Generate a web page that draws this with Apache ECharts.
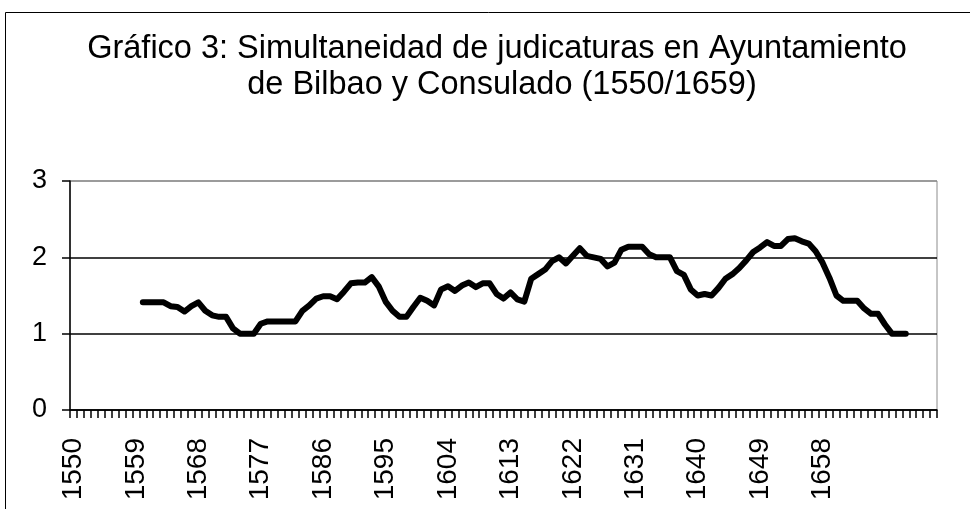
<!DOCTYPE html>
<html>
<head>
<meta charset="utf-8">
<script src="https://cdn.jsdelivr.net/npm/echarts@6/dist/echarts.min.js"></script>
<style>
html,body{margin:0;padding:0;background:#fff;}
#c{width:970px;height:509px;}
</style>
</head>
<body>
<div id="c"></div>
<script>
// Category labels (every year; trailing categories are blank in the original)
const categories = [
 '1550','1551','1552','1553','1554','1555','1556','1557','1558','1559',
 '1560','1561','1562','1563','1564','1565','1566','1567','1568','1569',
 '1570','1571','1572','1573','1574','1575','1576','1577','1578','1579',
 '1580','1581','1582','1583','1584','1585','1586','1587','1588','1589',
 '1590','1591','1592','1593','1594','1595','1596','1597','1598','1599',
 '1600','1601','1602','1603','1604','1605','1606','1607','1608','1609',
 '1610','1611','1612','1613','1614','1615','1616','1617','1618','1619',
 '1620','1621','1622','1623','1624','1625','1626','1627','1628','1629',
 '1630','1631','1632','1633','1634','1635','1636','1637','1638','1639',
 '1640','1641','1642','1643','1644','1645','1646','1647','1648','1649',
 '1650','1651','1652','1653','1654','1655','1656','1657','1658','1659',
 '','','','','','','','','','','','','','',''
];

// Series values (null = no data)
const values = [
 null,null,null,null,null,null,null,null,null,null,
 1.41,1.41,1.41,1.41,1.36,1.35,1.29,1.36,1.41,1.30,
 1.24,1.22,1.22,1.07,1.00,1.00,1.00,1.13,1.16,1.16,
 1.16,1.16,1.16,1.30,1.37,1.46,1.49,1.49,1.45,1.55,
 1.66,1.67,1.67,1.74,1.62,1.42,1.30,1.22,1.22,1.35,
 1.47,1.43,1.37,1.58,1.62,1.56,1.63,1.67,1.61,1.66,
 1.66,1.52,1.46,1.54,1.45,1.42,1.72,1.78,1.84,1.95,
 2.00,1.92,2.02,2.12,2.02,2.00,1.98,1.88,1.93,2.10,
 2.14,2.14,2.14,2.04,2.00,2.00,2.00,1.82,1.77,1.58,
 1.50,1.52,1.50,1.60,1.72,1.78,1.86,1.96,2.07,2.13,
 2.20,2.15,2.15,2.24,2.25,2.21,2.18,2.08,1.93,1.73,
 1.50,1.43,1.43,1.43,1.33,1.26,1.26,1.12,1.00,1.00,
 1.00,null,null,null,null
];

const yTicks = [0, 1, 2, 3];
const titleLines = ['Gráfico 3: Simultaneidad de judicaturas en Ayuntamiento', 'de Bilbao y Consulado (1550/1659)'];

const FONT = 'Liberation Sans, Arial, sans-serif';
const chart = echarts.init(document.getElementById('c'), null, {renderer: 'canvas'});
chart.setOption({
  backgroundColor: '#fff',
  animation: false,
  graphic: [
    {type: 'rect', shape: {x: 5.5, y: 12.5, width: 1000, height: 600},
     style: {fill: 'none', stroke: '#000', lineWidth: 1}, z: 0},
    {type: 'text', x: 497, y: 49, style: {text: titleLines[0], fontSize: 32.5, fontFamily: FONT, fill: '#000', align: 'center', verticalAlign: 'middle'}},
    {type: 'text', x: 502, y: 85, style: {text: titleLines[1], fontSize: 32.5, fontFamily: FONT, fill: '#000', align: 'center', verticalAlign: 'middle'}}
  ],
  grid: {left: 70, right: 33, top: 181, bottom: 99, show: true, borderColor: '#8c8c8c', borderWidth: 1, backgroundColor: 'transparent'},
  xAxis: {
    type: 'category',
    data: categories,
    boundaryGap: true,
    axisLine: {lineStyle: {color: '#000', width: 1.5}},
    axisTick: {show: true, interval: 0, length: 8, lineStyle: {color: '#000', width: 1.5}},
    axisLabel: {interval: 8, rotate: 90, fontSize: 28, fontFamily: FONT, color: '#000', margin: 28},
    splitLine: {show: false}
  },
  yAxis: {
    type: 'value',
    min: yTicks[0], max: yTicks[yTicks.length - 1], interval: 1,
    axisLine: {show: true, lineStyle: {color: '#000', width: 1.5}},
    axisTick: {show: true, length: 8, lineStyle: {color: '#000', width: 1.5}},
    axisLabel: {fontSize: 27, fontFamily: FONT, color: '#000', margin: 23},
    splitLine: {show: true, lineStyle: {color: ['#000', '#000', '#000', '#8c8c8c'], width: 1.5}}
  },
  series: [{
    type: 'line',
    data: values,
    showSymbol: false,
    symbol: 'none',
    connectNulls: false,
    lineStyle: {color: '#000', width: 6, join: 'round', cap: 'round'},
    z: 5
  }]
});
</script>
</body>
</html>
